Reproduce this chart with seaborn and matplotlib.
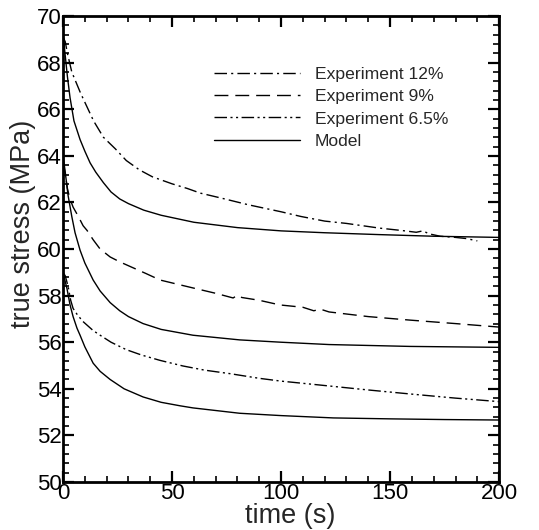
import matplotlib
matplotlib.use("Agg")
import matplotlib.pyplot as plt
import seaborn as sns
from matplotlib.ticker import MultipleLocator

sns.set_style("ticks")
plt.rcParams['font.family'] = ['Liberation Sans', 'DejaVu Sans']

# Experiment 12%
t_exp12 = [0, 1, 2, 4, 8, 14, 18.5, 24, 29, 35, 41, 50, 57, 63, 72, 85, 100, 109,
           120, 130, 145, 155, 162, 165, 168, 173, 180, 185, 190]
v_exp12 = [69.1, 68.9, 68.4, 67.6, 66.7, 65.5, 64.8, 64.3, 63.8, 63.4, 63.1, 62.8,
           62.6, 62.4, 62.2, 61.9, 61.6, 61.4, 61.2, 61.1, 60.9, 60.8, 60.72, 60.78,
           60.65, 60.55, 60.5, 60.45, 60.35]

# Experiment 9%
t_exp9 = [0, 1, 2, 3, 4.6, 7, 9.2, 11, 13.8, 17, 21.6, 26, 32, 38, 44.5, 52, 59.6,
          70, 78, 80, 82, 90, 99.5, 110, 115, 118, 122, 140, 159, 180, 200]
v_exp9 = [63.8, 63.2, 62.6, 62.2, 61.8, 61.4, 61.0, 60.8, 60.4, 60.0, 59.66, 59.45,
          59.2, 58.95, 58.67, 58.5, 58.33, 58.1, 57.9, 58.02, 57.92, 57.8, 57.6, 57.5,
          57.35, 57.42, 57.3, 57.1, 56.95, 56.8, 56.65]

# Experiment 6.5%
t_exp65 = [0, 1, 2.3, 3.5, 4.6, 6.4, 9, 13.8, 17, 22, 29, 36, 44.5, 55, 65, 76.6,
           90, 100, 118, 140, 159, 180, 200]
v_exp65 = [59.0, 58.85, 58.4, 57.8, 57.45, 57.2, 56.9, 56.5, 56.3, 56.0, 55.68,
           55.45, 55.22, 54.98, 54.8, 54.65, 54.45, 54.33, 54.16, 53.95, 53.78, 53.6,
           53.45]

# Model curves
t_mod1 = [0, 1, 2, 3.2, 5, 7.8, 10, 12.4, 15, 18.5, 22, 26, 30, 37, 45, 60, 80, 100,
          120, 145, 170, 200]
v_mod1 = [69.2, 68.3, 67.4, 66.5, 65.5, 64.7, 64.2, 63.7, 63.3, 62.85, 62.45, 62.15,
          61.95, 61.67, 61.45, 61.15, 60.92, 60.78, 60.7, 60.62, 60.55, 60.5]

t_mod2 = [0, 1, 2.3, 4, 5.5, 7.8, 10, 13.8, 17, 21.6, 26, 30, 36.7, 45, 59.6, 81, 100,
          122, 159, 200]
v_mod2 = [64.0, 63.3, 62.3, 61.4, 60.7, 59.95, 59.4, 58.67, 58.2, 57.7, 57.35, 57.1,
          56.8, 56.55, 56.3, 56.1, 56.0, 55.9, 55.82, 55.78]

t_mod3 = [0, 1, 1.8, 3.2, 4.6, 6.4, 7.8, 10, 13.8, 17, 21.6, 28, 36.7, 45, 53.7, 59.6,
          81, 100, 124, 150, 175, 200]
v_mod3 = [59.0, 58.6, 58.3, 57.6, 57.1, 56.6, 56.3, 55.8, 55.1, 54.75, 54.4, 54.0,
          53.65, 53.42, 53.27, 53.18, 52.95, 52.85, 52.75, 52.71, 52.68, 52.66]

fig = plt.figure(figsize=(5.39, 5.30), dpi=100)
ax = fig.add_axes([0.117, 0.0906, 0.809, 0.879])

ls12 = (0, (9, 3, 1.5, 3))
ls9 = (0, (10, 5))
ls65 = (0, (9, 2.5, 1.5, 2.5, 1.5, 2.5))

sns.lineplot(x=t_exp12, y=v_exp12, ax=ax, color='black', lw=1, linestyle=ls12,
             label='Experiment 12%')
sns.lineplot(x=t_exp9, y=v_exp9, ax=ax, color='black', lw=1, linestyle=ls9,
             label='Experiment 9%')
sns.lineplot(x=t_exp65, y=v_exp65, ax=ax, color='black', lw=1, linestyle=ls65,
             label='Experiment 6.5%')
sns.lineplot(x=t_mod1, y=v_mod1, ax=ax, color='black', lw=1, label='Model')
sns.lineplot(x=t_mod2, y=v_mod2, ax=ax, color='black', lw=1)
sns.lineplot(x=t_mod3, y=v_mod3, ax=ax, color='black', lw=1)

ax.set_xlim(0, 200)
ax.set_ylim(50, 70)
ax.xaxis.set_major_locator(MultipleLocator(50))
ax.xaxis.set_minor_locator(MultipleLocator(10))
ax.yaxis.set_major_locator(MultipleLocator(2))
ax.yaxis.set_minor_locator(MultipleLocator(0.4))
ax.tick_params(which='both', direction='in', top=True, right=True, width=1.2,
               labelsize=16, colors='black')
ax.tick_params(which='major', length=8, width=1.6)
ax.tick_params(axis='x', which='major', pad=1)
ax.tick_params(axis='y', which='major', pad=1)
ax.tick_params(which='minor', length=4)
for s in ax.spines.values():
    s.set_linewidth(2)
    s.set_color('black')

ax.set_xlabel('time (s)', fontsize=19.5)
ax.set_ylabel('true stress (MPa)', fontsize=19.5)
ax.xaxis.set_label_coords(0.52, -0.045)
ax.yaxis.set_label_coords(-0.062, 0.555)

ax.legend(loc='upper left', bbox_to_anchor=(0.31, 0.925), frameon=False,
          fontsize=12.6, handlelength=4.9, handletextpad=0.85, labelspacing=0.4)

fig.savefig('out.png', dpi=100)
